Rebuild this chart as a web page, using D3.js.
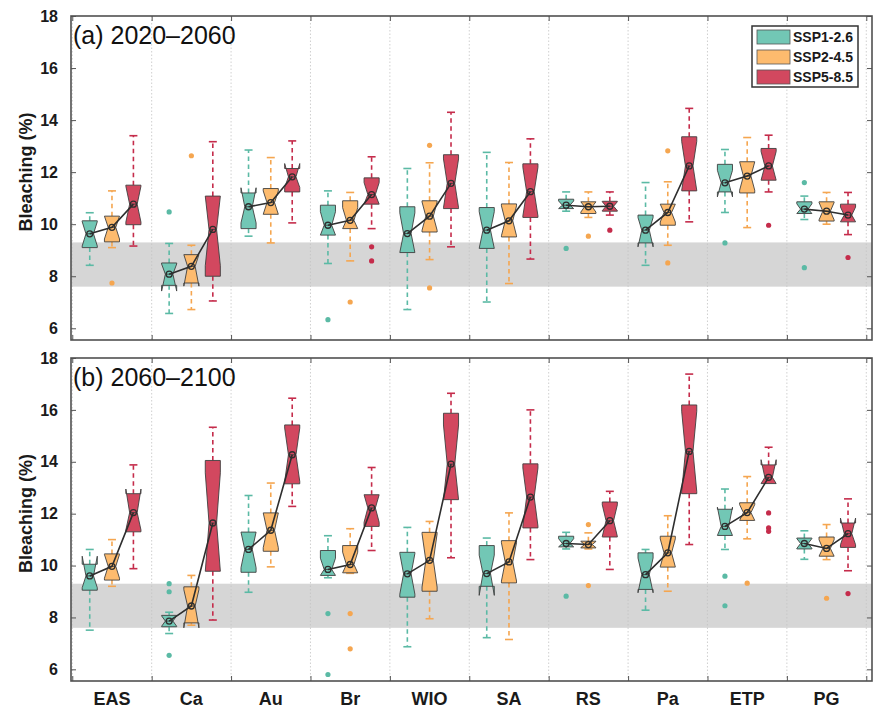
<!DOCTYPE html>
<html><head><meta charset="utf-8">
<script src="https://cdn.jsdelivr.net/npm/d3@7"></script>
<style>
html,body{margin:0;padding:0;background:#fff;}
text{font-family:"Liberation Sans",Arial,Helvetica,sans-serif;}
</style></head>
<body><svg id="chart" width="878" height="710"></svg>
<script>
// ---------------- DATA ----------------
const regions = ["EAS","Ca","Au","Br","WIO","SA","RS","Pa","ETP","PG"];
const scenarios = ["SSP1-2.6","SSP2-4.5","SSP5-8.5"];
const yTicks = [6,8,10,12,14,16,18];
const refBand = [7.6, 9.3];
const panelTitles = ["(a) 2020\u20132060","(b) 2060\u20132100"];

// each entry: [lower whisker, Q1, median, Q3, upper whisker]
const a126 = [[8.42,9.10,9.63,10.13,10.44],[6.57,7.65,8.08,8.51,9.26],[9.54,9.83,10.67,11.2,12.85],[8.49,9.58,9.96,10.73,11.28],[6.72,8.91,9.64,10.67,12.14],[7.01,9.07,9.77,10.64,12.76],[10.5,10.6,10.73,10.96,11.24],[8.42,9.28,9.77,10.35,11.6],[10.45,11.24,11.59,12.3,12.87],[10.18,10.41,10.58,10.86,11.08]];
const a245 = [[9.10,9.32,9.88,10.31,11.28],[6.72,7.74,8.38,8.83,9.19],[9.28,10.38,10.83,11.37,12.56],[8.59,9.83,10.15,10.9,11.22],[8.64,9.7,10.31,10.9,12.36],[7.72,9.51,10.13,10.78,12.37],[10.26,10.41,10.67,10.86,11.24],[9.19,9.96,10.45,10.77,11.63],[9.87,11.2,11.85,12.4,13.33],[10.0,10.12,10.5,10.86,11.22]];
const a585 = [[9.16,9.98,10.77,11.5,13.4],[7.05,8.0,9.8,11.08,13.17],[10.05,11.24,11.82,12.14,13.2],[9.83,10.77,11.14,11.78,12.59],[9.13,10.6,11.57,12.67,14.3],[8.66,10.26,11.25,12.32,13.28],[10.35,10.5,10.69,10.88,11.24],[10.09,11.28,12.24,13.36,14.45],[11.24,11.69,12.24,12.91,13.42],[9.6,10.09,10.35,10.77,11.22]];
const b126 = [[7.51,9.05,9.6,10.05,10.62],[7.38,7.64,7.86,8.08,8.2],[8.97,9.74,10.62,11.29,12.7],[9.53,9.62,9.85,10.58,11.15],[6.87,8.78,9.68,10.51,11.47],[7.22,9.2,9.69,10.77,11.06],[10.64,10.72,10.85,11.13,11.28],[8.28,9.08,9.65,10.49,10.62],[10.62,11.16,11.51,12.17,12.95],[10.24,10.64,10.85,11.06,11.34]];
const b245 = [[9.2,9.44,9.97,10.45,11.0],[7.7,7.79,8.44,9.18,9.62],[9.95,10.55,11.36,12.03,13.18],[9.7,9.72,10.04,10.77,11.42],[7.95,9.01,10.2,11.28,11.7],[7.15,9.33,10.14,10.96,12.03],[10.64,10.68,10.81,10.94,11.26],[9.01,9.94,10.49,11.13,11.92],[11.03,11.74,12.04,12.42,13.43],[10.23,10.36,10.66,11.1,11.58]];
const b585 = [[9.88,11.3,12.04,12.77,13.88],[7.9,9.78,11.64,14.05,15.33],[12.28,13.15,14.27,15.42,16.45],[10.58,11.51,12.22,12.73,13.78],[10.3,12.54,13.91,15.87,16.64],[10.23,11.45,12.64,13.92,16.0],[9.85,11.1,11.73,12.45,12.86],[10.81,12.77,14.4,16.19,17.38],[13.16,13.16,13.4,13.88,14.56],[9.8,10.7,11.23,11.64,12.57]];

// outliers per region
const aOut126 = [[],[10.47],[],[6.33],[],[],[9.07],[],[9.28],[11.6,8.33]];
const aOut245 = [[7.74],[12.63],[],[7.01],[13.03,7.55],[],[9.54],[12.82,8.51],[],[]];
const aOut585 = [[],[],[],[9.13,8.59],[],[],[9.77],[],[9.96],[8.72]];
const bOut126 = [[],[9.3,8.99,6.54],[],[8.15,5.8],[],[],[8.82],[],[9.59,8.45],[]];
const bOut245 = [[],[],[],[8.15,6.79],[],[],[11.58,9.23],[],[9.32],[8.74]];
const bOut585 = [[],[],[],[],[],[],[],[],[12.03,11.45,11.32],[8.92]];

// notch limits read where the notch passes beyond the box (panel, scenario, region, low, high)
const notchOverrides = [
  [0,0,1,7.43,null],[0,1,1,7.62,null],[0,0,2,null,11.4],[0,2,2,null,12.33],
  [0,0,7,9.13,null],[0,0,8,11.05,null],
  [1,0,0,null,10.36],[1,2,0,null,12.95],[1,1,1,7.6,null],[1,0,5,8.85,null],
  [1,2,8,null,14.08],[1,2,9,null,11.83],[1,0,7,8.95,null],[1,0,8,null,12.25]
];
const notchFactor = 0.453; // 1.57/sqrt(n)

// ---------------- STYLE ----------------
const fills = ["#72c7b5","#fdbb6e","#d2485f"];
const strokes = ["#5bbaa5","#f5a650","#c52c4b"];
const offsets = [-0.28, 0, 0.27];
const boxW = 0.19;

const panels = [
  {stats:[a126,a245,a585], outs:[aOut126,aOut245,aOut585], top:16, bottom:340},
  {stats:[b126,b245,b585], outs:[bOut126,bOut245,bOut585], top:358, bottom:681}
];

const svg = d3.select("#chart");
const x = d3.scaleLinear().domain([0.484, 10.572]).range([71, 872]);
const boundaries = d3.range(0.5, 11, 1);
const font = '"Liberation Sans",Arial,Helvetica,sans-serif';

panels.forEach((p, pi) => {
  const y = d3.scaleLinear().domain([5.55, 18]).range([p.bottom, p.top]);
  const g = svg.append("g");
  const defs = svg.append("defs");
  defs.append("clipPath").attr("id","clip"+pi).append("rect")
    .attr("x",71).attr("y",p.top).attr("width",801).attr("height",p.bottom-p.top);

  // reference band
  g.append("rect").attr("x",71).attr("width",801)
    .attr("y",y(refBand[1])).attr("height",y(refBand[0])-y(refBand[1]))
    .attr("fill","#d6d6d6");

  // vertical grid
  g.selectAll(".grid").data(boundaries).enter().append("line")
    .attr("x1",d=>x(d)).attr("x2",d=>x(d)).attr("y1",p.top).attr("y2",p.bottom)
    .attr("stroke","#c4c4c4").attr("stroke-width",0.8).attr("stroke-dasharray","1.5,2");

  const plot = g.append("g").attr("clip-path","url(#clip"+pi+")");

  p.stats.forEach((arr, si) => {
    arr.forEach((s, ri) => {
      const [wlo,q1,med,q3,whi] = s;
      const xc = x(ri+1+offsets[si]);
      const w = x(boxW) - x(0);
      const half = notchFactor*(q3-q1);
      let nlo = Math.max(q1, med-half), nhi = Math.min(q3, med+half);
      notchOverrides.forEach(o => {
        if (o[0]===pi && o[1]===si && o[2]===ri) {
          if (o[3]!==null) nlo = o[3];
          if (o[4]!==null) nhi = o[4];
        }
      });
      const bg = plot.append("g");
      // whiskers
      [[q3,whi],[q1,wlo]].forEach(([a,b]) => {
        if (Math.abs(a-b) < 0.01) return;
        bg.append("line").attr("x1",xc).attr("x2",xc).attr("y1",y(a)).attr("y2",y(b))
          .attr("stroke",strokes[si]).attr("stroke-width",1.6).attr("stroke-dasharray","4.5,3.5");
        bg.append("line").attr("x1",xc-4).attr("x2",xc+4).attr("y1",y(b)).attr("y2",y(b))
          .attr("stroke",strokes[si]).attr("stroke-width",1.6);
      });
      const l = xc - w/2, r = xc + w/2, ins = w/4;
      const pts = [[l,y(q1)],[l,y(nlo)],[l+ins,y(med)],[l,y(nhi)],[l,y(q3)],
                   [r,y(q3)],[r,y(nhi)],[r-ins,y(med)],[r,y(nlo)],[r,y(q1)]];
      bg.append("path").attr("d","M"+pts.map(d=>d.join(",")).join("L")+"Z")
        .attr("fill",fills[si]).attr("stroke","#404040").attr("stroke-width",0.9)
        .attr("stroke-linejoin","miter");
      bg.append("line").attr("x1",l+ins).attr("x2",r-ins).attr("y1",y(med)).attr("y2",y(med))
        .attr("stroke","#404040").attr("stroke-width",0.9);
      // outliers
      p.outs[si][ri].forEach(v => {
        bg.append("circle").attr("cx",xc).attr("cy",y(v)).attr("r",2.6)
          .attr("fill",strokes[si]);
      });
    });
  });

  // median connecting lines and markers
  regions.forEach((reg, ri) => {
    const pts = p.stats.map((arr, si) => [x(ri+1+offsets[si]), y(arr[ri][2])]);
    plot.append("path").attr("d", d3.line()(pts)).attr("fill","none")
      .attr("stroke","#2e2e2e").attr("stroke-width",1.6);
    pts.forEach(pt => {
      plot.append("circle").attr("cx",pt[0]).attr("cy",pt[1]).attr("r",3)
        .attr("fill","none").attr("stroke","#2e2e2e").attr("stroke-width",1.3);
    });
  });

  // axes
  const axL = g.append("g").attr("transform","translate(71,0)")
    .call(d3.axisLeft(y).tickValues(yTicks).tickSize(-5).tickPadding(13));
  const axR = g.append("g").attr("transform","translate(872,0)")
    .call(d3.axisRight(y).tickValues(yTicks).tickSize(-5).tickFormat(""));
  const axT = g.append("g").attr("transform","translate(0,"+p.top+")")
    .call(d3.axisTop(x).tickValues(boundaries).tickSize(-5).tickFormat(""));
  const axB = g.append("g").attr("transform","translate(0,"+p.bottom+")")
    .call(d3.axisBottom(x).tickValues(boundaries).tickSize(-5).tickFormat(""));
  [axL,axR,axT,axB].forEach(a => {
    a.select(".domain").remove();
    a.selectAll(".tick line").attr("stroke","#555").attr("stroke-width",1);
  });
  axL.selectAll(".tick text").attr("font-size",16).attr("font-weight","bold")
    .attr("fill","#1a1a1a").attr("font-family",font);

  // frame
  g.append("rect").attr("x",71).attr("y",p.top).attr("width",801).attr("height",p.bottom-p.top)
    .attr("fill","none").attr("stroke","#505050").attr("stroke-width",1.6);

  // titles
  g.append("text").attr("x",73).attr("y",p.top+28).text(panelTitles[pi])
    .attr("font-size",25).attr("fill","#111");
  g.append("text").attr("transform","translate(32,"+((p.top+p.bottom)/2-6)+") rotate(-90)")
    .attr("text-anchor","middle").attr("font-size",18).attr("font-weight","bold")
    .attr("fill","#1a1a1a").text("Bleaching (%)");

  if (pi === 1) {
    g.selectAll(".xlab").data(regions).enter().append("text")
      .attr("x",(d,i)=>x(i+1)).attr("y",705).attr("text-anchor","middle")
      .attr("font-size",18).attr("font-weight","bold").attr("fill","#1a1a1a").text(d=>d);
  }

  if (pi === 0) {
    const lg = g.append("g");
    lg.append("rect").attr("x",752).attr("y",26).attr("width",106).attr("height",61)
      .attr("fill","#fff").attr("stroke","#333").attr("stroke-width",1.5);
    scenarios.forEach((s, si) => {
      lg.append("rect").attr("x",757).attr("y",30+si*20).attr("width",33).attr("height",14)
        .attr("fill",fills[si]).attr("stroke","#555").attr("stroke-width",0.8);
      lg.append("text").attr("x",793).attr("y",42+si*20).text(s)
        .attr("font-size",14).attr("font-weight","bold").attr("fill","#1a1a1a");
    });
  }
});
</script></body></html>
